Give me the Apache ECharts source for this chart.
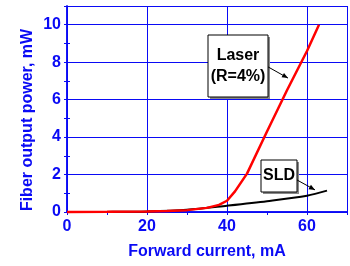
<!DOCTYPE html>
<html>
<head>
<meta charset="utf-8">
<script src="https://cdn.jsdelivr.net/npm/echarts@6/dist/echarts.min.js"></script>
<style>
  html, body { margin: 0; padding: 0; background: #fff; }
  #main { width: 350px; height: 266px; }
</style>
</head>
<body>
<div id="main"></div>
<script>
// forward current (mA) and fiber output power (mW)
const laserCurrent = [0, 10, 20, 25, 30, 35, 38, 40, 42, 45, 50, 55, 60, 63]
const laserPower = [0, 0.01, 0.03, 0.06, 0.1, 0.22, 0.38, 0.6, 1.1, 2.05, 4.3, 6.5, 8.6, 10]
const sldCurrent = [0, 10, 20, 30, 40, 50, 60, 65]
const sldPower = [0, 0.005, 0.03, 0.12, 0.34, 0.58, 0.87, 1.14]

const blue = '#0a0af5'
const font = 'Liberation Sans, Arial, sans-serif'

const myChart = echarts.init(document.getElementById('main'))

const labelStyle = { color: blue, fontFamily: font, fontWeight: 'bold', fontSize: 16 }

const option = {
    animation: false,
    grid: { left: 67, right: 3, top: 6, bottom: 54 },
    xAxis: [{
        type: 'value', min: 0, max: 70, interval: 20,
        name: 'Forward current, mA', nameLocation: 'middle', nameGap: 32,
        nameTextStyle: labelStyle,
        axisLine: { lineStyle: { color: blue, width: 1.5 } },
        axisLabel: { ...labelStyle, margin: 7, showMaxLabel: false },
        axisTick: { length: 3, lineStyle: { color: blue } },
        minorTick: { show: true, splitNumber: 2, length: 3, lineStyle: { color: blue } },
        splitLine: { show: true, lineStyle: { color: blue, width: 1 } }
    }, {
        type: 'value', position: 'top', min: 0, max: 70, interval: 20,
        axisLine: { show: true, lineStyle: { color: blue, width: 1.5 } },
        axisLabel: { show: false },
        axisTick: { show: true, inside: true, length: 3, lineStyle: { color: blue } },
        minorTick: { show: true, splitNumber: 2, length: 3, lineStyle: { color: blue } },
        splitLine: { show: false }
    }],
    yAxis: [{
        type: 'value', min: 0, max: 11, interval: 2,
        axisLine: { show: true, lineStyle: { color: blue, width: 1.5 } },
        axisLabel: { ...labelStyle, margin: 6, showMaxLabel: false },
        axisTick: { show: true, length: 3, lineStyle: { color: blue } },
        minorTick: { show: true, splitNumber: 2, length: 3, lineStyle: { color: blue } },
        splitLine: { show: true, lineStyle: { color: blue, width: 1 } }
    }, {
        type: 'value', position: 'right', min: 0, max: 11, interval: 2,
        axisLine: { show: true, lineStyle: { color: blue, width: 1.5 } },
        axisLabel: { show: false },
        axisTick: { show: true, length: 3, lineStyle: { color: blue } },
        minorTick: { show: true, splitNumber: 2, length: 3, lineStyle: { color: blue } },
        splitLine: { show: false }
    }],
    series: [{
        name: 'SLD', type: 'line', showSymbol: false, smooth: 0.3, z: 5, clip: false,
        data: sldCurrent.map((c, i) => [c, sldPower[i]]),
        lineStyle: { color: '#000', width: 2 }
    }, {
        name: 'Laser', type: 'line', showSymbol: false, z: 6, clip: false,
        data: laserCurrent.map((c, i) => [c, laserPower[i]]),
        lineStyle: { color: '#ff0000', width: 2.5 }
    }]
}
myChart.setOption(option)

// callout boxes with arrows pointing at the curves
function callout(box, lines, from, to) {
    const p1 = myChart.convertToPixel({ gridIndex: 0 }, from)
    const p2 = myChart.convertToPixel({ gridIndex: 0 }, to)
    const ang = Math.atan2(p2[1] - p1[1], p2[0] - p1[0])
    const hl = 6, hw = 2.5
    const head = [
        [p2[0], p2[1]],
        [p2[0] - hl * Math.cos(ang) + hw * Math.sin(ang), p2[1] - hl * Math.sin(ang) - hw * Math.cos(ang)],
        [p2[0] - hl * Math.cos(ang) - hw * Math.sin(ang), p2[1] - hl * Math.sin(ang) + hw * Math.cos(ang)]
    ]
    return [
        { type: 'rect', shape: { x: box.x + 2, y: box.y + 2, width: box.w, height: box.h }, style: { fill: '#888' }, z: 10 },
        { type: 'rect', shape: { x: box.x, y: box.y, width: box.w, height: box.h }, style: { fill: '#fff', stroke: '#000', lineWidth: 1 }, z: 11 },
        {
            type: 'text', x: box.x + box.w / 2, y: box.y + box.h / 2, z: 12,
            style: { text: lines.join('\n'), fill: '#000', font: 'bold 16px ' + font, align: 'center', verticalAlign: 'middle', lineHeight: 21 }
        },
        { type: 'line', shape: { x1: p1[0], y1: p1[1], x2: p2[0], y2: p2[1] }, style: { stroke: '#000', lineWidth: 1 }, z: 12 },
        { type: 'polygon', shape: { points: head }, style: { fill: '#000' }, z: 12 }
    ]
}

myChart.setOption({
    graphic: [
        {
            type: 'text', x: 28, y: 120, rotation: Math.PI / 2, z: 12,
            style: { text: 'Fiber output power, mW', fill: blue, font: 'bold 16px ' + font, align: 'center', verticalAlign: 'middle' }
        },
        ...callout({ x: 208, y: 35, w: 60, h: 62 }, ['Laser', '(R=4%)'], [50.25, 7.75], [55.25, 7.15]),
        ...callout({ x: 261, y: 160, w: 36, h: 32 }, ['SLD'], [57.5, 1.71], [62, 1.18])
    ]
})
</script>
</body>
</html>
